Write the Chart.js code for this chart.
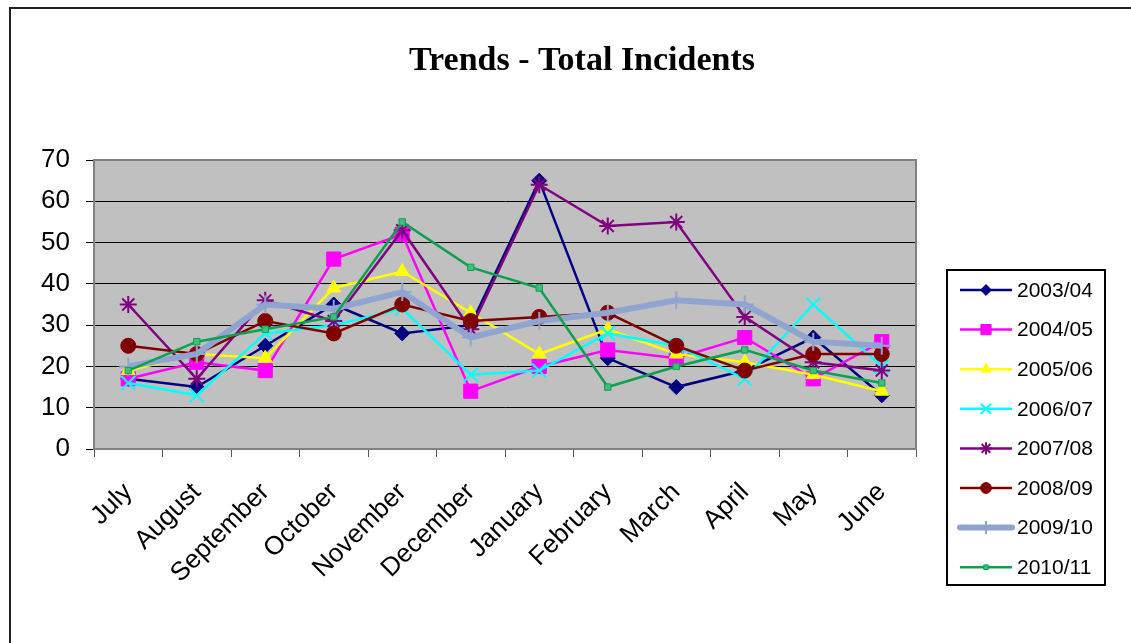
<!DOCTYPE html>
<html>
<head>
<meta charset="utf-8">
<title>Trends - Total Incidents</title>
<script src="https://cdn.jsdelivr.net/npm/chart.js@4.4.1/dist/chart.umd.min.js"></script>
<style>
  html, body { margin: 0; padding: 0; background: #ffffff; }
  #wrap { position: relative; width: 1131px; height: 643px; }
</style>
</head>
<body>
<div id="wrap"><canvas id="chart" width="1131" height="643"></canvas></div>
<script>
// Months of the financial year (July to June)
const months = ['July', 'August', 'September', 'October', 'November', 'December',
                'January', 'February', 'March', 'April', 'May', 'June'];

// Total incidents per month, one list per year
const y2003_04 = [17, 15, 25, 35, 28, 30, 65, 22, 15, 19, 27, 13];
const y2004_05 = [17, 21, 19, 46, 52, 14, 20, 24, 22, 27, 17, 26];
const y2005_06 = [19, 23, 22, 39, 43, 33, 23, 29, 23, 21, 18, 14];
const y2006_07 = [16, 13, 28, 30, 34, 18, 19, 28, 25, 17, 35, 20];
const y2007_08 = [35, 17, 36, 31, 53, 29, 64, 54, 55, 32, 21, 19];
const y2008_09 = [25, 23, 31, 28, 35, 31, 32, 33, 25, 19, 23, 23];
const y2009_10 = [20, 23, 35, 34, 38, 27, 31, 33, 36, 35, 26, 25];
const y2010_11 = [19, 26, 29, 32, 55, 44, 39, 15, 20, 24, 19, 16];

// Value axis range and step
const yMin = 0;
const yMax = 70;
const yStep = 10;

const chartTitle = 'Trends - Total Incidents';
const sansFont = "'Liberation Sans', Arial, sans-serif";

function series(label, data, color, style, radius, width, fill) {
  return {
    label: label,
    data: data,
    borderColor: color,
    backgroundColor: fill || color,
    borderWidth: width,
    pointStyle: style,
    pointRadius: radius,
    pointHoverRadius: radius,
    pointBorderColor: color,
    pointBackgroundColor: fill || color,
    pointBorderWidth: (style === 'crossRot' || style === 'star' || style === 'cross') ? 2 : 1,
    tension: 0,
    fill: false
  };
}

const datasets = [
  series('2003/04', y2003_04, '#000080', 'rectRot', 7.5, 2.5),
  series('2004/05', y2004_05, '#FF00FF', 'rect', 10, 2.5),
  series('2005/06', y2005_06, '#FFFF00', 'triangle', 8, 2.5),
  series('2006/07', y2006_07, '#00FFFF', 'crossRot', 10, 2.5),
  series('2007/08', y2007_08, '#800080', 'star', 8.5, 2.5),
  series('2008/09', y2008_09, '#800000', 'circle', 7.5, 2.5),
  series('2009/10', y2009_10, '#8FA5CF', 'cross', 9, 6),
  series('2010/11', y2010_11, '#0E9F50', 'rect', 4.5, 2.5, '#3CC07A')
];
// later years are painted on top of earlier ones
datasets.forEach((d, i) => { d.order = datasets.length - i; });

// Grey plot background, outer frame and title
const backdrop = {
  id: 'backdrop',
  beforeDraw(chart) {
    const { ctx, chartArea: a } = chart;
    ctx.save();
    ctx.fillStyle = '#C0C0C0';
    ctx.fillRect(a.left, a.top, a.right - a.left, a.bottom - a.top);
    // page frame
    ctx.strokeStyle = '#222222';
    ctx.lineWidth = 2;
    ctx.beginPath();
    ctx.moveTo(10, chart.height);
    ctx.lineTo(10, 8);
    ctx.lineTo(chart.width, 8);
    ctx.stroke();
    // title
    ctx.fillStyle = '#000000';
    ctx.font = "bold 34px 'Liberation Serif', 'Times New Roman', serif";
    ctx.textAlign = 'center';
    ctx.textBaseline = 'alphabetic';
    ctx.fillText(chartTitle, 582, 70);
    ctx.restore();
  },
  beforeDatasetsDraw(chart) {
    const { ctx, chartArea: a } = chart;
    ctx.save();
    ctx.strokeStyle = '#808080';
    ctx.lineWidth = 2;
    ctx.strokeRect(a.left, a.top, a.right - a.left, a.bottom - a.top);
    ctx.restore();
  }
};

// Boxed legend with a line sample and marker per year
const boxLegend = {
  id: 'boxLegend',
  afterDraw(chart) {
    const { ctx, chartArea: a } = chart;
    const left = a.right + 31, top = 270, w = 158, h = 315;
    const rowTop = top + 20, rowGap = 39.6;
    ctx.save();
    ctx.fillStyle = '#ffffff';
    ctx.fillRect(left, top, w, h);
    ctx.strokeStyle = '#000000';
    ctx.lineWidth = 2;
    ctx.strokeRect(left, top, w, h);
    chart.data.datasets.forEach((ds, i) => {
      const y = rowTop + i * rowGap;
      ctx.strokeStyle = ds.borderColor;
      ctx.lineWidth = ds.borderWidth === 6 ? 6 : 2.5;
      ctx.lineCap = ds.borderWidth === 6 ? 'round' : 'butt';
      ctx.beginPath();
      ctx.moveTo(left + 13, y);
      ctx.lineTo(left + 65, y);
      ctx.stroke();
      ctx.lineCap = 'butt';
      ctx.fillStyle = ds.pointBackgroundColor;
      ctx.strokeStyle = ds.pointBorderColor;
      ctx.lineWidth = ds.pointBorderWidth;
      Chart.helpers.drawPoint(ctx, {
        pointStyle: ds.pointStyle,
        rotation: 0,
        radius: ds.pointRadius * 0.72,
        borderWidth: ds.pointBorderWidth
      }, left + 39, y);
      ctx.fillStyle = '#000000';
      ctx.font = '21px ' + sansFont;
      ctx.textAlign = 'left';
      ctx.textBaseline = 'middle';
      ctx.fillText(ds.label, left + 70, y + 1);
    });
    ctx.restore();
  }
};

new Chart(document.getElementById('chart'), {
  type: 'line',
  data: { labels: months, datasets: datasets },
  plugins: [backdrop, boxLegend],
  options: {
    responsive: false,
    animation: false,
    devicePixelRatio: 1,
    layout: { padding: { top: 160, right: 215, bottom: 44, left: 10 } },
    plugins: {
      legend: { display: false },
      title: { display: false },
      tooltip: { enabled: false }
    },
    scales: {
      x: {
        offset: true,
        grid: {
          offset: true,
          drawOnChartArea: false,
          drawTicks: true,
          tickLength: 8,
          color: '#555555',
          lineWidth: 1
        },
        border: { display: true, color: '#808080', width: 2 },
        ticks: {
          autoSkip: false,
          minRotation: 45,
          maxRotation: 45,
          padding: 20,
          color: '#000000',
          font: { family: sansFont, size: 26 }
        },
        afterFit(scale) { scale.height = 150; }
      },
      y: {
        min: yMin,
        max: yMax,
        ticks: {
          stepSize: yStep,
          padding: 16,
          color: '#000000',
          font: { family: sansFont, size: 26 }
        },
        grid: {
          color: '#000000',
          lineWidth: 1,
          drawTicks: true,
          tickLength: 8
        },
        border: { display: true, color: '#808080', width: 2 },
        afterFit(scale) { scale.width = 84; }
      }
    }
  }
});
</script>
</body>
</html>
